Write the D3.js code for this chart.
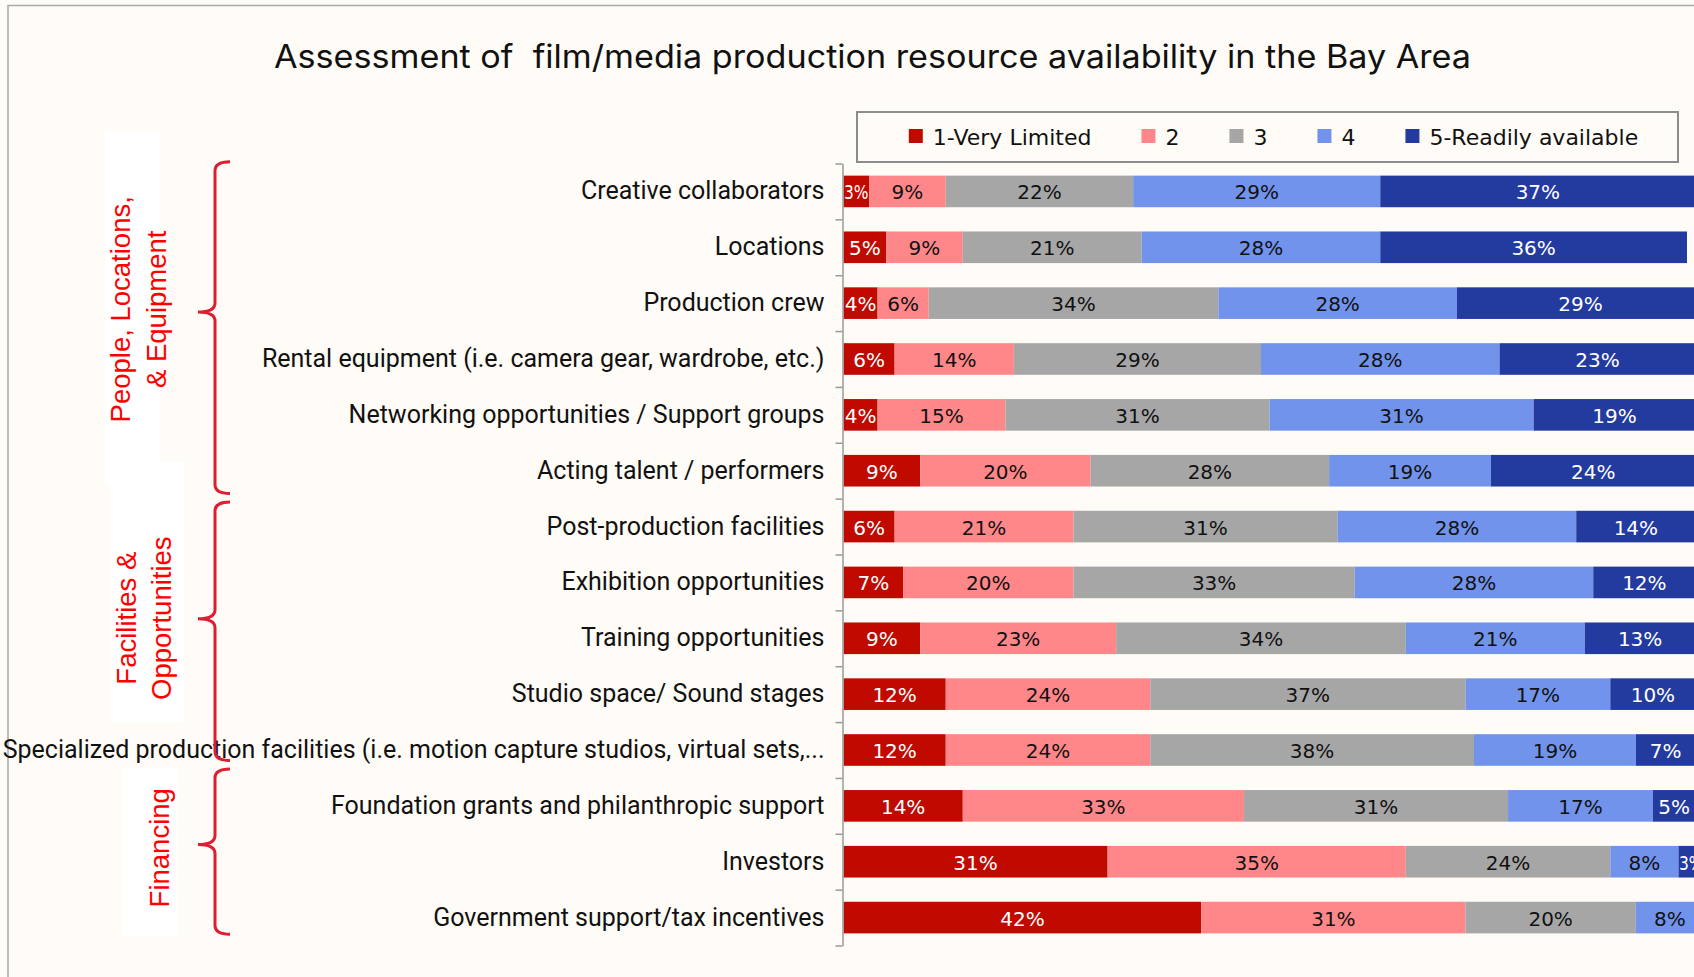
<!DOCTYPE html>
<html>
<head>
<meta charset="utf-8">
<script src="https://cdn.jsdelivr.net/npm/d3@7"></script>
<style>
  html, body { margin: 0; padding: 0; background: #FFFCF7; overflow: hidden; }
  svg { display: block; }
</style>
</head>
<body>
<svg id="chart" width="1694" height="977"></svg>
<script>
// ---- Data ---------------------------------------------------------------
const categories = [
  "Creative collaborators",
  "Locations",
  "Production crew",
  "Rental equipment (i.e. camera gear, wardrobe, etc.)",
  "Networking opportunities / Support groups",
  "Acting talent / performers",
  "Post-production facilities",
  "Exhibition opportunities",
  "Training opportunities",
  "Studio space/ Sound stages",
  "Specialized production facilities (i.e. motion capture studios, virtual sets,...",
  "Foundation grants and philanthropic support",
  "Investors",
  "Government support/tax incentives"
];

const seriesNames = ["1-Very Limited", "2", "3", "4", "5-Readily available"];

// Share of respondents (%) per rating, in category order
const veryLimited       = [3, 5, 4, 6, 4, 9, 6, 7, 9, 12, 12, 14, 31, 42];
const rating2           = [9, 9, 6, 14, 15, 20, 21, 20, 23, 24, 24, 33, 35, 31];
const rating3           = [22, 21, 34, 29, 31, 28, 31, 33, 34, 37, 38, 31, 24, 20];
const rating4           = [29, 28, 28, 28, 31, 19, 28, 28, 21, 17, 19, 17, 8, 8];
const readilyAvailable  = [37, 36, 29, 23, 19, 24, 14, 12, 13, 10, 7, 5, 3, 0];

// Category groups shown with braces on the left
const groupLabels = [["People, Locations,", "& Equipment"], ["Facilities &", "Opportunities"], ["Financing"]];

const titleText = "Assessment of  film/media production resource availability in the Bay Area";

// ---- Layout ------------------------------------------------------------
const W = 1694, H = 977;
const palette = ["#C00A00", "#FF878A", "#A6A6A6", "#7193EC", "#233A9F"];
const labelInk = ["#ffffff", "#111111", "#111111", "#111111", "#ffffff"];
const wideFont = "'DejaVu Sans', Verdana, sans-serif";
const labelFont = "Roboto, 'Liberation Sans', sans-serif";
const groupFont = "'Liberation Sans', Arial, sans-serif";

// brace geometry in row units: [top, nib, bottom]
const braceRows = [[-0.03, 2.66, 5.91], [6.06, 8.15, 10.69], [10.84, 12.19, 13.8]];
// white label panels: [x0, x1, rowTop, rowBottom]
const panelBoxes = [[105, 160, -0.58, 5.78], [110.7, 183.3, 5.35, 10.0], [122.3, 177.3, 10.83, 13.82]];
// label placement: baseline x of each line, centre row
const groupText = [{ xs: [130, 165.5], row: 2.61 }, { xs: [136, 171], row: 8.14 }, { xs: [168.6], row: 12.25 }];

const svg = d3.select("#chart");
svg.append("rect").attr("width", W).attr("height", H).attr("fill", "#FFFCF7");

// outer frame (top & left edges visible)
svg.append("path")
  .attr("d", `M8,${H} V5.5 H${W}`)
  .attr("fill", "none").attr("stroke", "#A8A8A8").attr("stroke-width", 1.5);

// title
svg.append("text")
  .attr("x", 274).attr("y", 68)
  .style("white-space", "pre")
  .style("font-family", "Inter, Roboto, sans-serif")
  .style("font-size", "32px")
  .attr("textLength", 1197)
  .attr("lengthAdjust", "spacingAndGlyphs")
  .attr("fill", "#111")
  .text(titleText);

// ---- Scales -------------------------------------------------------------
const keys = ["r1", "r2", "r3", "r4", "r5"];
const seriesValues = [veryLimited, rating2, rating3, rating4, readilyAvailable];
const rows = categories.map((c, i) => {
  const r = { category: c };
  keys.forEach((k, j) => r[k] = seriesValues[j][i]);
  return r;
});
const stacked = d3.stack().keys(keys)(rows);

const x = d3.scaleLinear().domain([0, 100]).range([843.5, 1695.5]);
const y = d3.scaleBand().domain(categories).range([163.5, 945.5]).paddingInner(0.434).paddingOuter(0.217);
const rowPos = d3.scaleLinear().domain([0, categories.length]).range(y.range());

// ---- Bars ---------------------------------------------------------------
const layers = svg.append("g").selectAll("g")
  .data(stacked)
  .join("g")
  .attr("fill", (d, i) => palette[i]);

layers.selectAll("rect")
  .data(d => d)
  .join("rect")
  .attr("x", d => x(d[0]))
  .attr("y", d => y(d.data.category))
  .attr("width", d => x(d[1]) - x(d[0]))
  .attr("height", y.bandwidth());

// value labels
stacked.forEach((layer, i) => {
  const g = svg.append("g");
  layer.forEach(d => {
    const v = d[1] - d[0];
    if (v <= 0) return;
    const segW = x(d[1]) - x(d[0]);
    const t = g.append("text")
      .attr("x", (x(d[0]) + x(d[1])) / 2)
      .attr("y", y(d.data.category) + y.bandwidth() / 2 + 8)
      .attr("text-anchor", "middle")
      .style("font-family", wideFont)
      .style("font-size", "20px")
      .attr("fill", labelInk[i])
      .text(v + "%");
    const len = t.node().getComputedTextLength();
    if (len > segW - 1) {
      t.attr("textLength", segW - 1).attr("lengthAdjust", "spacingAndGlyphs");
    }
  });
});

// ---- Category axis -----------------------------------------------------
// boundary ticks
svg.append("g")
  .attr("transform", "translate(842.5,0)")
  .call(d3.axisLeft(rowPos).ticks(categories.length).tickFormat("").tickSize(7).tickSizeOuter(0))
  .call(g => g.selectAll("path, line").attr("stroke", "#9A9A9A").attr("stroke-width", 1.5));

// category names
svg.append("g")
  .attr("transform", "translate(842.5,0)")
  .call(d3.axisLeft(y).tickSize(0).tickPadding(18))
  .call(g => g.select(".domain").remove())
  .call(g => g.selectAll("text")
    .style("font-size", "25px")
    .style("font-family", labelFont)
    .attr("fill", "#111")
    .attr("dy", 8));

// ---- Legend -------------------------------------------------------------
const legend = svg.append("g");
legend.append("rect")
  .attr("x", 857).attr("y", 112).attr("width", 821).attr("height", 50)
  .attr("fill", "none").attr("stroke", "#8C8C8C").attr("stroke-width", 2);

const items = legend.selectAll("g.item").data(seriesNames).join("g").attr("class", "item");
items.append("rect").attr("width", 14).attr("height", 14).attr("y", 129)
  .attr("fill", (d, i) => palette[i]);
items.append("text").attr("x", 24).attr("y", 144.5)
  .style("font-family", wideFont)
  .style("font-size", "22px")
  .attr("fill", "#111").text(d => d);
const gap = 50;
let widths = [];
items.each(function () { widths.push(this.querySelector("text").getComputedTextLength() + 24); });
const total = d3.sum(widths) + gap * (widths.length - 1);
let cx = 857 + (821 - total) / 2 + 6;
items.each(function (d, i) {
  d3.select(this).attr("transform", `translate(${cx},0)`);
  cx += widths[i] + gap;
});

// ---- Groups: white panels, labels and braces ---------------------------
const groups = svg.append("g");
panelBoxes.forEach(b => {
  groups.append("rect")
    .attr("x", b[0]).attr("y", rowPos(b[2]))
    .attr("width", b[1] - b[0]).attr("height", rowPos(b[3]) - rowPos(b[2]))
    .attr("fill", "#ffffff");
});

groupLabels.forEach((lines, gi) => {
  const cy = rowPos(groupText[gi].row);
  lines.forEach((ln, li) => {
    groups.append("text")
      .attr("transform", `translate(${groupText[gi].xs[li]},${cy}) rotate(-90)`)
      .attr("text-anchor", "middle")
      .style("font-family", groupFont)
      .style("font-size", "27.5px")
      .attr("fill", "#FF0000")
      .text(ln);
  });
});

const xLine = 215, xTip = 230, xNib = 198, r = 9;
braceRows.forEach(b => {
  const t = rowPos(b[0]), n = rowPos(b[1]), bt = rowPos(b[2]);
  const d = `M${xTip},${t} Q${xLine},${t} ${xLine},${t + r} L${xLine},${n - r} ` +
            `Q${xLine},${n} ${xNib},${n} Q${xLine},${n} ${xLine},${n + r} ` +
            `L${xLine},${bt - r} Q${xLine},${bt} ${xTip},${bt}`;
  groups.append("path").attr("d", d)
    .attr("fill", "none").attr("stroke", "#DC1E32").attr("stroke-width", 3);
});
</script>
</body>
</html>
